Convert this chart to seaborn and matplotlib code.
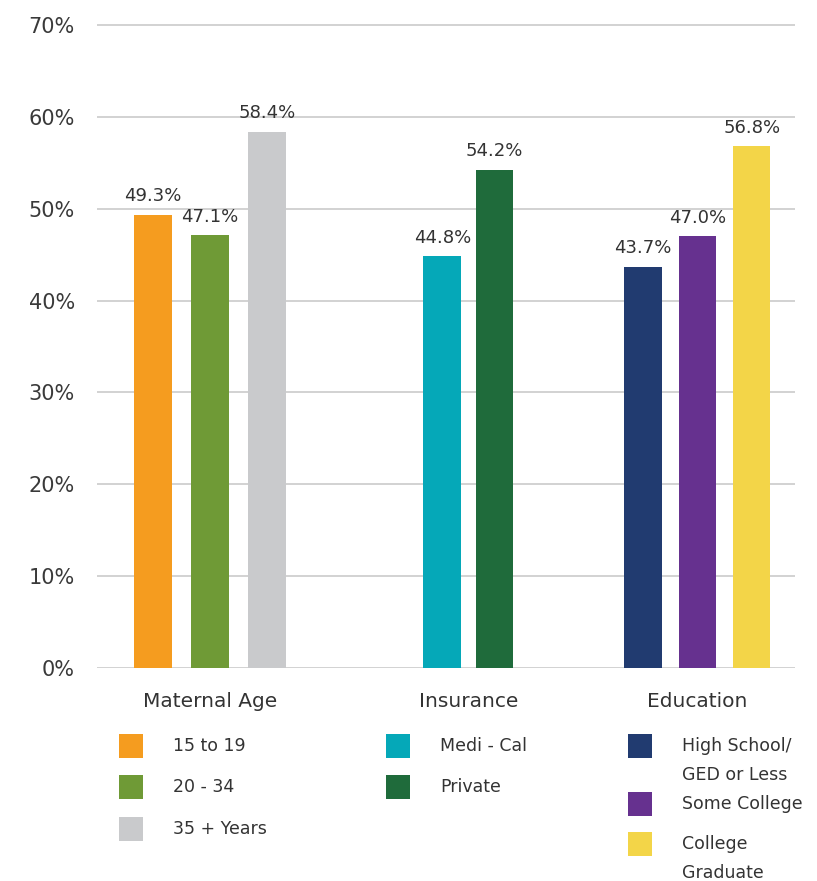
import matplotlib
matplotlib.use('Agg')
import matplotlib.pyplot as plt
import seaborn as sns
import pandas as pd
from matplotlib.patches import Rectangle

# --- data ---
groups = ['Maternal Age', 'Insurance', 'Education']
age_labels = ['15 to 19', '20 - 34', '35 + Years']
age_values = [49.3, 47.1, 58.4]
ins_labels = ['Medi - Cal', 'Private']
ins_values = [44.8, 54.2]
edu_labels = ['High School/\nGED or Less', 'Some College', 'College\nGraduate']
edu_values = [43.7, 47.0, 56.8]
y_ticks = [0, 10, 20, 30, 40, 50, 60, 70]

age_colors = ['#F59C1F', '#6F9A36', '#C9CACC']
ins_colors = ['#05A8B8', '#1F6B3B']
edu_colors = ['#213B70', '#66318F', '#F3D548']

# --- layout ---
W, H = 817, 881
group_centers = [2.02, 6.63, 10.72]
bar_step = [1.02, 0.93, 0.97]
bar_width = 0.72

sns.set_theme(style='white')
plt.rcParams['font.family'] = ['DejaVu Sans']
text_color = '#333333'

all_labels, all_values, all_colors, all_pos = [], [], [], []
for gi, (labs, vals, cols) in enumerate([(age_labels, age_values, age_colors),
                                         (ins_labels, ins_values, ins_colors),
                                         (edu_labels, edu_values, edu_colors)]):
    n = len(vals)
    for i, (l, v, c) in enumerate(zip(labs, vals, cols)):
        all_labels.append(l)
        all_values.append(v)
        all_colors.append(c)
        all_pos.append(group_centers[gi] + (i - (n - 1) / 2) * bar_step[gi])

df = pd.DataFrame({'pos': all_pos, 'value': all_values, 'label': all_labels})

fig = plt.figure(figsize=(W / 100, H / 100), dpi=100)
fig.patch.set_facecolor('white')
# axes in pixel terms: x 97..795, y0 at 668, 70% at 25
y0_px, y70_px = 668, 25
px_per_unit = (y0_px - y70_px) / 70
ymax = 71
top_px = y0_px - ymax * px_per_unit
ax = fig.add_axes([97 / W, 1 - y0_px / H, (795 - 97) / W, (y0_px - top_px) / H])

sns.barplot(data=df, x='pos', y='value', hue='label', hue_order=all_labels,
            palette=all_colors, native_scale=True, dodge=False, width=bar_width,
            legend=False, ax=ax, saturation=1, linewidth=0)

for cont, v in zip(ax.containers, all_values):
    ax.bar_label(cont, labels=[f'{v:.1f}%'], padding=7, fontsize=13, color=text_color)

ax.set_xlim(0, (795 - 97) / 56)
ax.set_ylim(0, ymax)
ax.set_yticks(y_ticks)
ax.set_yticklabels([f'{t}%' for t in y_ticks], fontsize=15, color='#3a3a3a')
ax.set_xticks(group_centers)
ax.set_xticklabels(groups, fontsize=14.5, color=text_color)
ax.tick_params(axis='y', length=0, pad=16)
ax.tick_params(axis='x', length=0, pad=17)
ax.set_xlabel('')
ax.set_ylabel('')
ax.yaxis.grid(True, color='#cfcfcf', linewidth=1.3)
ax.xaxis.grid(False)
ax.set_axisbelow(True)
for s in ax.spines.values():
    s.set_visible(False)

# --- manual legends ---
def legend_item(x_px, y_px, color, text):
    fig.add_artist(Rectangle((x_px / W, 1 - (y_px + 12) / H), 24 / W, 24 / H,
                             transform=fig.transFigure, color=color, lw=0))
    for k, line in enumerate(text.split('\n')):
        fig.text((x_px + 54) / W, 1 - (y_px + k * 29) / H, line, fontsize=12.5,
                 color=text_color, va='center', ha='left')

for lab, col, y in zip(age_labels, age_colors, [746, 787, 829]):
    legend_item(119, y, col, lab)
for lab, col, y in zip(ins_labels, ins_colors, [746, 787]):
    legend_item(386, y, col, lab)
for lab, col, y in zip(edu_labels, edu_colors, [746, 804, 844]):
    legend_item(628, y, col, lab)

fig.savefig('out.png', dpi=100, facecolor='white')
